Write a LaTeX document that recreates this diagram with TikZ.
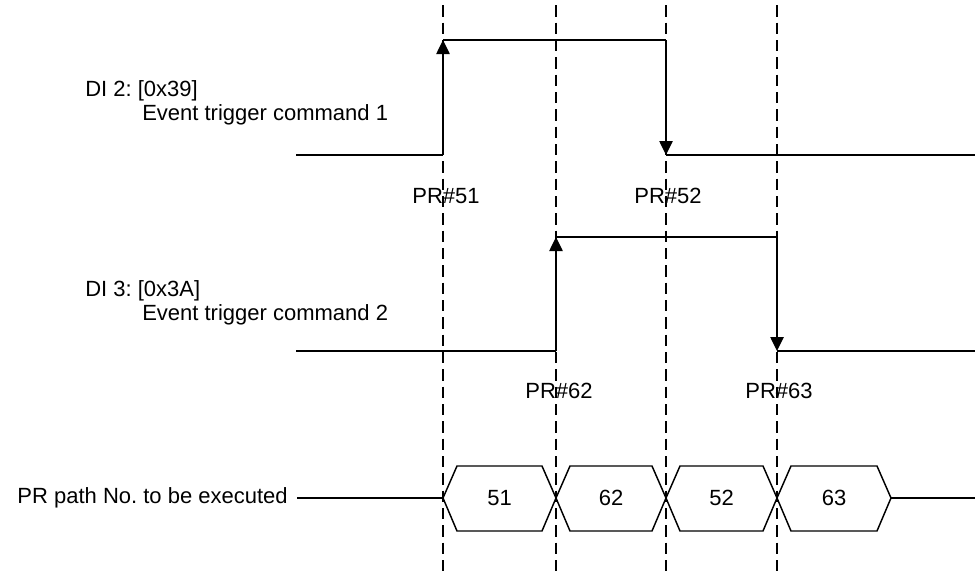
\documentclass[tikz,border=0pt]{standalone}
\usepackage{fontspec}
\setmainfont{Liberation Sans}
\usetikzlibrary{arrows.meta}
\frenchspacing
\begin{document}
\begin{tikzpicture}[x=0.75pt,y=-0.75pt,
  sig/.style={line width=1.1pt, draw=black},
  edgearrow/.style={sig, -{Triangle[width=10pt,length=10.5pt]}},
  gridline/.style={line width=1pt, dash pattern=on 8.5pt off 4.5pt, dash phase=-4pt},
  lbl/.style={font=\fontsize{16.5}{20}\selectfont, inner sep=0pt},
]
\useasboundingbox (0,0) rectangle (975,572);
% dashed time markers
\foreach \n/\x in {a/443,b/556,c/666,d/777} {
  \coordinate (\n top) at (\x,0);
  \coordinate (\n bot) at (\x,572);
  \draw[gridline] (\n top) -- (\n bot);
}
% labels
\node[lbl, anchor=west] (di2) at (85,91) {DI 2: [0x39]};
\node[lbl, anchor=west] (ev1) at (142,115) {Event trigger command 1};
\node[lbl, anchor=west] (di3) at (85,291) {DI 3: [0x3A]};
\node[lbl, anchor=west] (ev2) at (142,315) {Event trigger command 2};
\node[lbl, anchor=east] (prpath) at (288,498) {PR path No. to be executed};
\node[lbl] (pr51) at (446,196) {PR\#51};
\node[lbl] (pr52) at (668,196) {PR\#52};
\node[lbl] (pr62) at (559,391) {PR\#62};
\node[lbl] (pr63) at (779,391) {PR\#63};
% signal 1
\coordinate (s1a) at (296,155);
\coordinate (s1b) at (443,155);
\coordinate (s1c) at (443,40);
\coordinate (s1d) at (666,40);
\coordinate (s1e) at (666,155);
\coordinate (s1f) at (975,155);
\draw[sig] (s1a) -- (s1b);
\draw[edgearrow] (s1b) -- (s1c);
\draw[sig] (s1c) -- (s1d);
\draw[edgearrow] (s1d) -- (s1e);
\draw[sig] (s1e) -- (s1f);
% signal 2
\coordinate (s2a) at (296,351);
\coordinate (s2b) at (556,351);
\coordinate (s2c) at (556,237);
\coordinate (s2d) at (777,237);
\coordinate (s2e) at (777,351);
\coordinate (s2f) at (975,351);
\draw[sig] (s2a) -- (s2b);
\draw[edgearrow] (s2b) -- (s2c);
\draw[sig] (s2c) -- (s2d);
\draw[edgearrow] (s2d) -- (s2e);
\draw[sig] (s2e) -- (s2f);
% bus
\coordinate (busstart) at (297,498);
\coordinate (busa) at (443,498);
\coordinate (busz) at (891,498);
\coordinate (busend) at (975,498);
\draw[sig] (busstart) -- (busa);
\draw[sig] (busz) -- (busend);
\foreach \xa/\xb/\v in {443/556/51, 556/666/62, 666/777/52, 777/891/63} {
  \draw[sig, line join=miter] (\xa,498) -- (\xa+14,466) -- (\xb-14,466) -- (\xb,498) -- (\xb-14,531) -- (\xa+14,531) -- cycle;
  \node[lbl] (v\v) at ({(\xa+\xb)/2},498) {\v};
}
\end{tikzpicture}
\end{document}
